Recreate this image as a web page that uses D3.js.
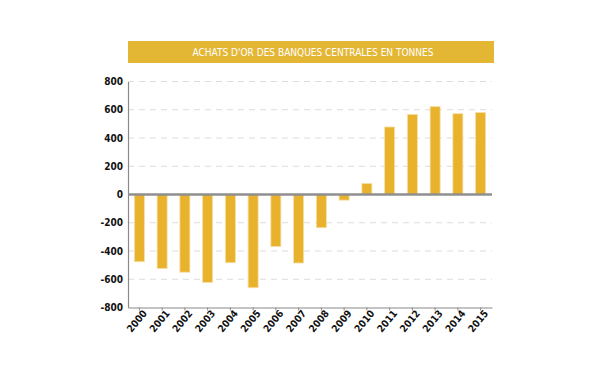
<!DOCTYPE html>
<html><head><meta charset="utf-8">
<script src="https://cdn.jsdelivr.net/npm/d3@7"></script>
<style>
body{margin:0;background:#fff;}
text{font-family:"DejaVu Sans Condensed","Roboto",sans-serif;}
</style></head>
<body><svg id="c" width="600" height="375"></svg>
<script>
const title = "ACHATS D'OR DES BANQUES CENTRALES EN TONNES";
const years = ["2000","2001","2002","2003","2004","2005","2006","2007","2008","2009","2010","2011","2012","2013","2014","2015"];
const values = [-476,-523,-550,-622,-483,-660,-368,-485,-235,-40,78,478,567,622,572,580];
const yTicks = [-800,-600,-400,-200,0,200,400,600,800];

const svg = d3.select("#c");
const L=128, R=492, T=81.5, B=307.5;
const x = d3.scaleBand().domain(years).range([L,R]).paddingInner(0.56).paddingOuter(0.28);
const y = d3.scaleLinear().domain([-800,800]).range([B,T]);

// banner
svg.append("rect").attr("x",128).attr("y",41).attr("width",366).attr("height",22).attr("fill","#E3B634");
svg.append("text").attr("x",313).attr("y",55.5).attr("text-anchor","middle").attr("fill","#fff")
  .attr("font-family","Lato, Roboto, sans-serif").attr("font-size",10.5)
  .attr("textLength",241).attr("lengthAdjust","spacingAndGlyphs").text(title);

// grid
svg.append("g").selectAll("line").data(yTicks.filter(d=>d!==0 && d!==-800)).join("line")
  .attr("x1",L).attr("x2",R).attr("y1",d=>y(d)).attr("y2",d=>y(d))
  .attr("stroke","#dcdcdc").attr("stroke-width",1).attr("stroke-dasharray","6,5");

// bars
svg.append("g").selectAll("rect").data(years).join("rect")
  .attr("x",(d)=>x(d)).attr("width",x.bandwidth())
  .attr("y",(d,i)=>y(Math.max(0,values[i])))
  .attr("height",(d,i)=>Math.abs(y(values[i])-y(0)))
  .attr("fill","#E8B22D").attr("stroke","#F6DFA6").attr("stroke-width",0.8);

const lab = {"font-size":10,"fill":"#111"};
// y axis
const ya = svg.append("g").attr("transform",`translate(${L},0)`)
  .call(d3.axisLeft(y).tickValues(yTicks).tickSize(0).tickPadding(5).tickFormat(d=>String(d)));
ya.select(".domain").attr("stroke","#8a8a8a").attr("stroke-width",1.2);
ya.selectAll("text").attr("font-size",10).attr("fill","#111").attr("font-weight",600)
  .attr("font-family","'DejaVu Sans Condensed',sans-serif");

// x axis
const xa = svg.append("g").attr("transform",`translate(0,${B})`)
  .call(d3.axisBottom(x).tickSize(3).tickSizeOuter(0));
xa.select(".domain").attr("stroke","#8a8a8a").attr("stroke-width",1.2);
xa.selectAll(".tick line").attr("stroke","#8a8a8a");
xa.selectAll("text").attr("font-size",10).attr("fill","#111").attr("font-weight",600)
  .attr("font-family","'DejaVu Sans Condensed',sans-serif")
  .attr("text-anchor","end").attr("dx","0.2em").attr("dy","0.3em")
  .attr("transform","translate(0,2) rotate(-50)");

// zero line
svg.append("line").attr("x1",L).attr("x2",R).attr("y1",y(0)).attr("y2",y(0))
  .attr("stroke","#8f8f8f").attr("stroke-width",2.5);
</script></body></html>
